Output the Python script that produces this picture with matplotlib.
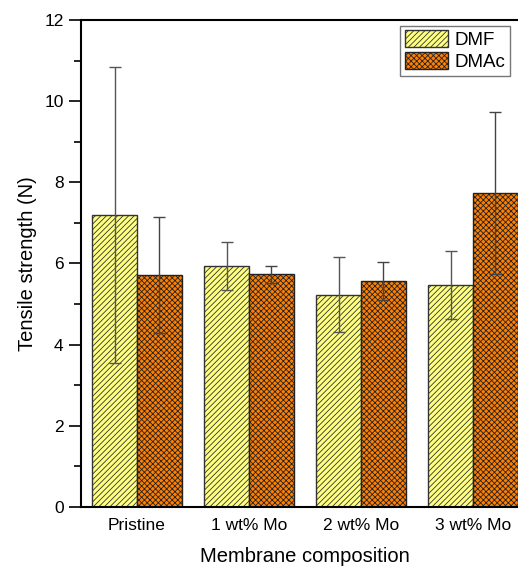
import numpy as np
import matplotlib.pyplot as plt
from matplotlib.ticker import MultipleLocator

plt.rcParams['font.family'] = ['Liberation Sans', 'DejaVu Sans']
plt.rcParams['hatch.linewidth'] = 0.6

# Tensile strength per membrane, two casting solvents
groups = ['Pristine', '1 wt% Mo', '2 wt% Mo', '3 wt% Mo']
dmf_mean = [7.20, 5.94, 5.23, 5.47]
dmf_err = [3.64, 0.59, 0.93, 0.83]
dmac_mean = [5.72, 5.73, 5.56, 7.73]
dmac_err = [1.43, 0.22, 0.47, 2.00]

fig = plt.figure(figsize=(5.18, 5.70), dpi=100)
ax = fig.add_axes([0.1564, 0.1105, 0.8648, 0.8545])

x = np.arange(len(groups))
w = 0.4

ax.bar(x - w / 2, dmf_mean, w, color='#FFFF80', edgecolor='#333333',
       hatch='//////', linewidth=1.0, label='DMF', zorder=2)
ax.bar(x + w / 2, dmac_mean, w, color='#FF8000', edgecolor='#222222',
       hatch='xxxxxx', linewidth=1.0, label='DMAc', zorder=2)

ax.errorbar(x - w / 2, dmf_mean, yerr=dmf_err, fmt='none', ecolor='#555555',
            elinewidth=1.0, capsize=4, capthick=1.0, zorder=3)
ax.errorbar(x + w / 2, dmac_mean, yerr=dmac_err, fmt='none', ecolor='#444444',
            elinewidth=1.0, capsize=4, capthick=1.0, zorder=3)

ax.set_xlim(-0.5, 3.5)
ax.set_ylim(0, 12)
ax.set_xticks(x)
ax.set_xticklabels(groups, fontsize=12.5)
ax.tick_params(axis='x', length=0, pad=8)
ax.yaxis.set_major_locator(MultipleLocator(2))
ax.yaxis.set_minor_locator(MultipleLocator(1))
ax.tick_params(axis='y', which='major', length=9, width=1.2, labelsize=12.5)
ax.tick_params(axis='y', which='minor', length=5, width=1.2)

for side in ['left', 'bottom', 'top']:
    ax.spines[side].set_linewidth(1.5)
ax.spines['right'].set_visible(False)

ax.set_ylabel('Tensile strength (N)', fontsize=14.5, labelpad=5)
ax.set_xlabel('Membrane composition', fontsize=14.5, labelpad=10)

leg = ax.legend(loc='upper right', bbox_to_anchor=(0.958, 0.988), fontsize=13.5,
                fancybox=False, edgecolor='#777777', framealpha=1,
                handlelength=2.3, handleheight=1.0, handletextpad=0.35,
                borderpad=0.25, labelspacing=0.15, borderaxespad=0)
leg.get_frame().set_linewidth(1.0)

fig.savefig('out.png', dpi=100)
